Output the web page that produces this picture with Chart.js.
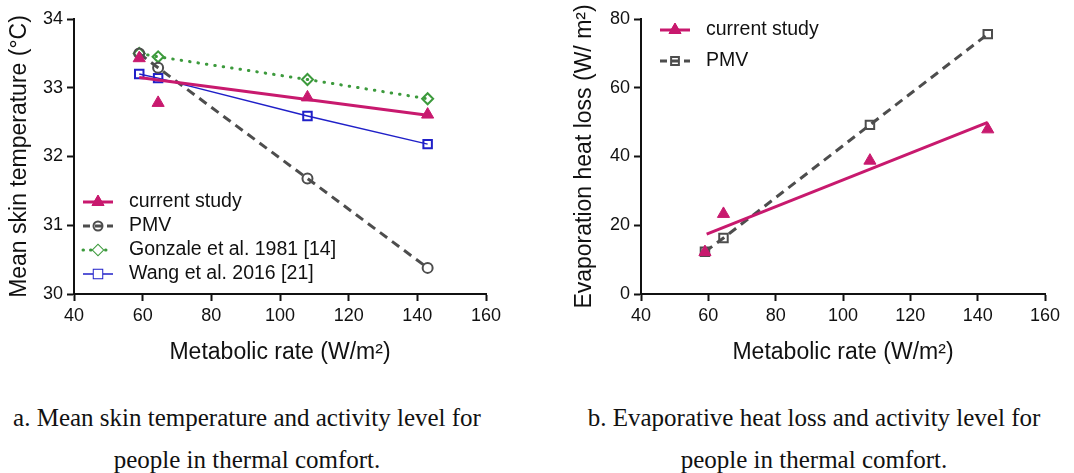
<!DOCTYPE html>
<html>
<head>
<meta charset="utf-8">
<script src="https://cdn.jsdelivr.net/npm/chart.js@4.4.1/dist/chart.umd.min.js"></script>
<style>
  html, body { margin: 0; padding: 0; background: #fff; }
  body { width: 1074px; height: 473px; position: relative; overflow: hidden; }
  canvas { position: absolute; top: 0; }
  #skinChart { left: 0; }
  #evapChart { left: 537px; }
  .caption {
    position: absolute; top: 397px; width: 560px; text-align: center;
    font-family: "Liberation Serif", "Times New Roman", serif; font-size: 25px;
    line-height: 42px; color: #111;
  }
</style>
</head>
<body>
<canvas id="skinChart" width="537" height="370"></canvas>
<canvas id="evapChart" width="537" height="370"></canvas>
<div class="caption" style="left: -33px;">a. Mean skin temperature and activity level for<br>people in thermal comfort.</div>
<div class="caption" style="left: 534px;">b. Evaporative heat loss and activity level for<br>people in thermal comfort.</div>
<script>
// values
const metabolicRate = [59, 64.5, 108, 143];
const xTicks = [40, 60, 80, 100, 120, 140, 160];

const skinTicks = [30, 31, 32, 33, 34];
const skinCurrent = [33.43, 32.78, 32.86, 32.61];
const skinFitX = [59, 143];
const skinFit = [33.15, 32.60];
const skinPMV = [33.50, 33.29, 31.68, 30.38];
const skinGonzale = [33.50, 33.45, 33.12, 32.84];
const skinWang = [33.20, 33.14, 32.59, 32.18];

const evapTicks = [0, 20, 40, 60, 80];
const evapCurrent = [12.2, 23.3, 38.8, 47.9];
const evapFitX = [59.5, 143];
const evapFit = [17.4, 49.9];
const evapPMV = [12.3, 16.3, 49.2, 75.6];

const PINK = '#C8196E';
const GRAY = '#4D4D4D';
const GREEN = '#3C9A3C';
const BLUE = '#2020C8';
const SANS = '"Liberation Sans", Arial, sans-serif';

Chart.defaults.font.family = SANS;
Chart.defaults.color = '#111';

function toPoints(xs, ys) {
    return xs.map((x, i) => ({ x: x, y: ys[i] }));
}

// legend drawn by hand so each entry shows line style and marker together
const lineLegend = {
    id: 'lineLegend',
    afterDraw(chart, args, opts) {
        const ctx = chart.ctx;
        ctx.save();
        opts.items.forEach((item, i) => {
            const y = opts.y + i * opts.rowGap;
            ctx.strokeStyle = item.color;
            ctx.lineWidth = item.lineWidth;
            ctx.lineCap = item.cap || 'butt';
            ctx.setLineDash(item.dash || []);
            ctx.beginPath();
            ctx.moveTo(opts.x, y);
            ctx.lineTo(opts.x + opts.sample, y);
            ctx.stroke();
            ctx.setLineDash([]);
            ctx.lineCap = 'butt';
            ctx.fillStyle = item.fill;
            ctx.strokeStyle = item.color;
            ctx.lineWidth = item.pointBorder;
            Chart.helpers.drawPoint(ctx, {
                pointStyle: item.pointStyle, rotation: 0,
                radius: item.radius, borderWidth: item.pointBorder
            }, opts.x + opts.sample / 2, y);
            if (item.fill !== 'transparent') ctx.fill();
            ctx.fillStyle = '#111';
            ctx.font = opts.fontSize + 'px ' + SANS;
            ctx.textBaseline = 'middle';
            ctx.fillText(item.text, opts.x + opts.sample + opts.gap, y);
        });
        ctx.restore();
    }
};

function axisOptions(ticks, title, boxSize, titlePad, horizontal) {
    return {
        type: 'linear',
        min: ticks[0],
        max: ticks[ticks.length - 1],
        afterBuildTicks: scale => { scale.ticks = ticks.map(v => ({ value: v })); },
        border: { display: true, color: '#111', width: 2 },
        grid: { drawOnChartArea: false, drawTicks: true, tickLength: 7, tickWidth: 2, tickColor: '#111' },
        ticks: { font: { size: 18 }, padding: 4, color: '#111', maxRotation: 0 },
        title: { display: true, text: title, font: { size: 23 }, color: '#111', padding: titlePad },
        afterFit: scale => {
            if (horizontal) scale.height = boxSize; else scale.width = boxSize;
        }
    };
}

const currentLegend = {
    text: 'current study', color: PINK, lineWidth: 3, pointStyle: 'triangle',
    radius: 7, fill: PINK, pointBorder: 1
};

new Chart(document.getElementById('skinChart'), {
    type: 'scatter',
    data: {
        datasets: [
            {
                label: 'current study',
                data: toPoints(metabolicRate, skinCurrent),
                showLine: false,
                pointStyle: 'triangle', pointRadius: 7,
                backgroundColor: PINK, borderColor: PINK, borderWidth: 1
            },
            {
                label: 'current study fit',
                data: toPoints(skinFitX, skinFit),
                showLine: true, pointRadius: 0,
                borderColor: PINK, borderWidth: 3
            },
            {
                label: 'PMV',
                data: toPoints(metabolicRate, skinPMV),
                showLine: true, borderDash: [9, 6], borderWidth: 3,
                borderColor: GRAY, backgroundColor: 'transparent',
                pointStyle: 'circle', pointRadius: 5, pointBorderWidth: 2
            },
            {
                label: 'Gonzale et al. 1981 [14]',
                data: toPoints(metabolicRate, skinGonzale),
                showLine: true, borderDash: [0.5, 8], borderCapStyle: 'round', borderWidth: 3,
                borderColor: GREEN, backgroundColor: 'transparent',
                pointStyle: 'rectRot', pointRadius: 5.5, pointBorderWidth: 2
            },
            {
                label: 'Wang et al. 2016 [21]',
                data: toPoints(metabolicRate, skinWang),
                showLine: true, borderWidth: 1.5,
                borderColor: BLUE, backgroundColor: 'transparent',
                pointStyle: 'rect', pointRadius: 6, pointBorderWidth: 2
            }
        ]
    },
    options: {
        responsive: false,
        animation: false,
        layout: { padding: { left: 0, right: 51, top: 19, bottom: 0 } },
        plugins: {
            legend: { display: false },
            tooltip: { enabled: false },
            lineLegend: {
                x: 83, y: 202, rowGap: 24, sample: 30, gap: 16, fontSize: 19.5,
                items: [
                    currentLegend,
                    { text: 'PMV', color: GRAY, lineWidth: 3, dash: [7, 5], pointStyle: 'circle',
                      radius: 4.5, fill: 'transparent', pointBorder: 2 },
                    { text: 'Gonzale et al. 1981 [14]', color: GREEN, lineWidth: 3, dash: [0.5, 7], cap: 'round',
                      pointStyle: 'rectRot', radius: 5, fill: '#fff', pointBorder: 2 },
                    { text: 'Wang et al. 2016 [21]', color: BLUE, lineWidth: 1.5, pointStyle: 'rect',
                      radius: 6, fill: '#fff', pointBorder: 2 }
                ]
            }
        },
        scales: {
            x: axisOptions(xTicks, 'Metabolic rate (W/m²)', 76, { top: 0, bottom: 4 }, true),
            y: axisOptions(skinTicks, 'Mean skin temperature (°C)', 74, { top: 6, bottom: 0 }, false)
        }
    },
    plugins: [lineLegend]
});

new Chart(document.getElementById('evapChart'), {
    type: 'scatter',
    data: {
        datasets: [
            {
                label: 'current study',
                data: toPoints(metabolicRate, evapCurrent),
                showLine: false,
                pointStyle: 'triangle', pointRadius: 7,
                backgroundColor: PINK, borderColor: PINK, borderWidth: 1
            },
            {
                label: 'current study fit',
                data: toPoints(evapFitX, evapFit),
                showLine: true, pointRadius: 0,
                borderColor: PINK, borderWidth: 3
            },
            {
                label: 'PMV',
                data: toPoints(metabolicRate, evapPMV),
                showLine: true, borderDash: [9, 6], borderWidth: 3,
                borderColor: GRAY, backgroundColor: 'transparent',
                pointStyle: 'rect', pointRadius: 6, pointBorderWidth: 2
            }
        ]
    },
    options: {
        responsive: false,
        animation: false,
        layout: { padding: { left: 0, right: 29, top: 19, bottom: 0 } },
        plugins: {
            legend: { display: false },
            tooltip: { enabled: false },
            lineLegend: {
                x: 123, y: 30, rowGap: 31, sample: 30, gap: 16, fontSize: 19.5,
                items: [
                    currentLegend,
                    { text: 'PMV', color: GRAY, lineWidth: 3, dash: [7, 5], pointStyle: 'rect',
                      radius: 5.5, fill: 'transparent', pointBorder: 2 }
                ]
            }
        },
        scales: {
            x: axisOptions(xTicks, 'Metabolic rate (W/m²)', 76, { top: 0, bottom: 4 }, true),
            y: axisOptions(evapTicks, 'Evaporation heat loss (W/ m²)', 104, { top: 34, bottom: 0 }, false)
        }
    },
    plugins: [lineLegend]
});
</script>
</body>
</html>
